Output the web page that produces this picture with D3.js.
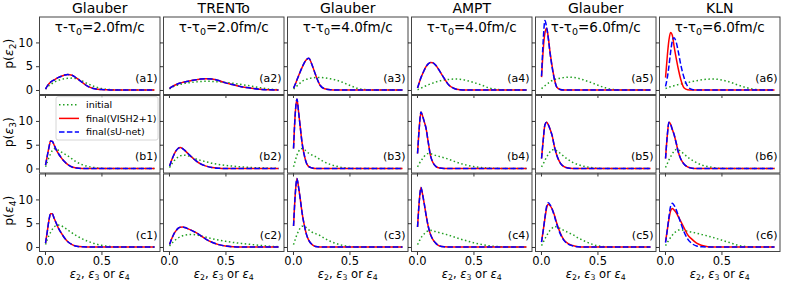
<!DOCTYPE html>
<html>
<head>
<meta charset="utf-8">
<script src="https://cdn.jsdelivr.net/npm/d3@7"></script>
<style>
  body { margin: 0; background: #fff; }
  svg text { font-family: "DejaVu Sans", sans-serif; fill: #000; }
</style>
</head>
<body>
<svg id="chart" width="789" height="282"></svg>
<script>
// eccentricity bins (shared by every panel)
const xs = [0.005, 0.02, 0.035, 0.05, 0.065, 0.08, 0.10, 0.12, 0.14, 0.17, 0.20, 0.24,
            0.28, 0.33, 0.38, 0.44, 0.50, 0.57, 0.64, 0.72, 0.80, 0.88, 0.97];

const models = ['Glauber', 'TRENTo', 'Glauber', 'AMPT', 'Glauber', 'KLN'];
const times = ['2.0', '2.0', '4.0', '4.0', '6.0', '6.0'];
const rowNames = ['a', 'b', 'c'];
const harmonics = ['2', '3', '4'];
const xTicks = [0, 0.5];
const yTicks = [0, 5, 10];

// row a : p(eps2)
const initA = [
  [0.2,0.55,0.9,1.15,1.4,1.6,1.85,2.05,2.2,2.35,2.45,2.5,2.35,1.9,1.3,0.7,0.3,0.1,0.03,0,0,0,0],
  [0.2,0.45,0.65,0.8,0.95,1.05,1.2,1.3,1.4,1.5,1.6,1.7,1.78,1.82,1.8,1.72,1.6,1.4,1.15,0.85,0.5,0.2,0.05],
  [0.2,0.5,0.85,1.2,1.5,1.8,2.05,2.25,2.4,2.55,2.62,2.65,2.55,2.35,2.1,1.6,1.0,0.35,0.08,0,0,0,0],
  [0.05,0.2,0.4,0.55,0.75,0.9,1.1,1.3,1.45,1.7,1.9,2.1,2.22,2.3,2.25,2.0,1.6,1.05,0.4,0.1,0,0,0],
  [0.3,0.6,0.9,1.2,1.45,1.7,2.0,2.2,2.35,2.5,2.6,2.7,2.65,2.45,2.1,1.6,1.05,0.45,0.1,0,0,0,0],
  [0.3,0.45,0.6,0.7,0.8,0.9,1.05,1.15,1.25,1.4,1.55,1.75,1.95,2.15,2.28,2.3,2.1,1.7,1.1,0.5,0.1,0,0]
];
const vishA = [
  [0.2,0.8,1.3,1.65,1.9,2.1,2.4,2.65,2.85,3.1,3.25,3.1,2.5,1.6,0.75,0.25,0.08,0.02,0,0,0,0,0],
  [0.3,0.6,0.8,1.0,1.15,1.3,1.45,1.6,1.7,1.85,2.0,2.15,2.3,2.35,2.3,2.0,1.5,1.1,0.7,0.4,0.15,0.04,0],
  [0.4,1.2,2.1,3.0,3.9,4.7,5.7,6.4,6.7,5.2,3.2,1.0,0.25,0.05,0,0,0,0,0,0,0,0,0],
  [0.4,1.5,2.6,3.4,4.2,4.9,5.5,5.8,5.75,5.1,4.0,2.5,1.1,0.3,0.05,0,0,0,0,0,0,0,0],
  [2.7,8.5,12.0,13.0,11.0,8.0,4.8,2.2,0.6,0.1,0,0,0,0,0,0,0,0,0,0,0,0,0],
  [2.6,7.0,10.5,12.1,11.5,9.3,6.6,4.2,2.2,0.4,0.05,0,0,0,0,0,0,0,0,0,0,0,0]
];
const unetA = [
  [0.2,0.8,1.3,1.65,1.9,2.1,2.4,2.65,2.85,3.1,3.25,3.1,2.5,1.6,0.75,0.25,0.08,0.02,0,0,0,0,0],
  [0.3,0.6,0.8,1.0,1.15,1.3,1.45,1.6,1.7,1.85,2.0,2.15,2.3,2.35,2.3,2.0,1.5,1.1,0.7,0.4,0.15,0.04,0],
  [0.4,1.2,2.1,3.0,3.9,4.7,5.7,6.4,6.7,5.2,3.2,1.0,0.25,0.05,0,0,0,0,0,0,0,0,0],
  [0.4,1.5,2.6,3.4,4.2,4.9,5.5,5.8,5.75,5.1,4.0,2.5,1.1,0.3,0.05,0,0,0,0,0,0,0,0],
  [2.9,10.5,14.6,13.2,10.8,7.8,4.6,2.1,0.6,0.1,0,0,0,0,0,0,0,0,0,0,0,0,0],
  [0.75,2.5,5.0,8.0,10.3,11.0,10.0,7.8,5.3,2.5,0.8,0.1,0,0,0,0,0,0,0,0,0,0,0]
];

// row b : p(eps3)
const initB = [
  [0.35,1.3,2.3,3.1,3.8,4.15,4.1,3.8,3.5,3.1,2.7,2.0,1.35,0.8,0.45,0.18,0.06,0,0,0,0,0,0],
  [0.2,0.8,1.3,1.75,2.1,2.4,2.65,2.8,2.8,2.65,2.4,2.0,1.7,1.4,1.1,0.85,0.65,0.48,0.35,0.22,0.14,0.07,0.02],
  [0.35,1.6,2.8,3.6,4.1,4.2,4.0,3.6,3.2,2.8,2.5,1.9,1.35,0.85,0.5,0.2,0.05,0,0,0,0,0,0],
  [0.35,1.0,1.6,2.1,2.55,2.9,3.15,3.1,2.95,2.7,2.5,2.25,1.95,1.5,1.1,0.7,0.4,0.2,0.08,0.02,0,0,0],
  [0.35,1.0,1.7,2.4,3.0,3.5,3.9,4.0,3.7,3.2,2.6,1.9,1.3,0.8,0.45,0.2,0.05,0,0,0,0,0,0],
  [0.2,1.0,1.8,2.5,3.1,3.6,4.0,3.9,3.6,3.0,2.4,1.75,1.2,0.7,0.4,0.15,0.03,0,0,0,0,0,0]
];
const vishB = [
  [0.7,2.6,4.4,5.8,5.7,5.0,3.9,3.1,2.4,1.5,0.85,0.3,0.08,0,0,0,0,0,0,0,0,0,0],
  [0.5,1.5,2.4,3.2,3.8,4.2,4.4,4.2,3.8,3.1,2.4,1.6,0.95,0.5,0.2,0.05,0,0,0,0,0,0,0],
  [4.2,11.5,14.6,11.8,8.6,5.5,2.8,1.1,0.4,0.1,0,0,0,0,0,0,0,0,0,0,0,0,0],
  [3.15,8.5,11.9,11.0,9.8,8.5,5.5,2.7,1.3,0.4,0.1,0,0,0,0,0,0,0,0,0,0,0,0],
  [2.1,6.0,9.2,9.7,9.2,8.3,6.8,4.5,2.8,1.2,0.45,0.1,0,0,0,0,0,0,0,0,0,0,0],
  [2.1,6.8,9.7,9.3,8.2,7.2,5.3,3.3,2.0,0.9,0.35,0.05,0,0,0,0,0,0,0,0,0,0,0]
];
const unetB = [
  [0.7,2.6,4.4,5.8,5.7,5.0,3.9,3.1,2.4,1.5,0.85,0.3,0.08,0,0,0,0,0,0,0,0,0,0],
  [0.5,1.5,2.4,3.2,3.8,4.2,4.4,4.2,3.8,3.1,2.4,1.6,0.95,0.5,0.2,0.05,0,0,0,0,0,0,0],
  [4.2,11.5,14.6,11.8,8.6,5.5,2.8,1.1,0.4,0.1,0,0,0,0,0,0,0,0,0,0,0,0,0],
  [3.15,8.5,11.9,11.0,9.8,8.5,5.5,2.7,1.3,0.4,0.1,0,0,0,0,0,0,0,0,0,0,0,0],
  [2.1,6.0,9.2,9.7,9.2,8.3,6.8,4.5,2.8,1.2,0.45,0.1,0,0,0,0,0,0,0,0,0,0,0],
  [2.1,6.8,9.7,9.3,8.2,7.2,5.3,3.3,2.0,0.9,0.35,0.05,0,0,0,0,0,0,0,0,0,0,0]
];

// row c : p(eps4)
const initC = [
  [0.5,1.5,2.4,3.1,3.7,4.2,4.5,4.6,4.5,4.1,3.6,2.95,2.35,1.7,1.2,0.7,0.35,0.12,0.03,0,0,0,0],
  [0.2,0.6,1.0,1.35,1.65,1.9,2.15,2.35,2.5,2.62,2.65,2.55,2.35,2.05,1.75,1.45,1.2,0.95,0.75,0.55,0.35,0.18,0.06],
  [0.5,1.6,2.6,3.4,4.0,4.35,4.35,4.0,3.6,3.1,2.8,2.4,1.8,1.2,0.75,0.35,0.1,0.02,0,0,0,0,0],
  [0.5,1.2,1.9,2.4,2.8,3.15,3.4,3.5,3.4,3.2,3.0,2.75,2.5,2.1,1.7,1.3,0.9,0.55,0.25,0.08,0,0,0],
  [0.3,1.0,1.7,2.4,3.0,3.5,4.0,4.3,4.2,3.9,3.5,3.05,2.6,1.9,1.3,0.7,0.25,0.05,0,0,0,0,0],
  [0.3,0.9,1.5,2.0,2.5,2.9,3.3,3.55,3.6,3.5,3.3,3.1,2.9,2.6,2.3,1.9,1.45,0.95,0.4,0.08,0,0,0]
];
const vishC = [
  [0.8,3.2,5.6,7.0,7.0,6.1,5.0,3.9,3.1,2.0,1.15,0.5,0.15,0.03,0,0,0,0,0,0,0,0,0],
  [0.5,1.5,2.3,3.0,3.5,3.9,4.15,4.2,4.1,3.8,3.5,3.0,2.4,1.6,1.0,0.5,0.2,0.05,0,0,0,0,0],
  [4.4,11.0,14.4,12.5,10.0,7.3,4.6,2.6,1.4,0.5,0.1,0,0,0,0,0,0,0,0,0,0,0,0],
  [4.2,9.5,12.5,11.0,9.0,6.8,4.3,2.6,1.6,0.7,0.2,0.03,0,0,0,0,0,0,0,0,0,0,0],
  [1.1,3.5,6.0,8.2,9.0,8.7,7.9,6.6,5.0,3.0,1.6,0.7,0.3,0.05,0,0,0,0,0,0,0,0,0],
  [1.1,3.5,5.8,7.6,8.1,7.8,7.2,6.3,5.4,4.0,2.6,1.6,0.8,0.3,0.05,0,0,0,0,0,0,0,0]
];
const unetC = [
  [0.8,3.2,5.6,7.0,7.0,6.1,5.0,3.9,3.1,2.0,1.15,0.5,0.15,0.03,0,0,0,0,0,0,0,0,0],
  [0.5,1.5,2.3,3.0,3.5,3.9,4.15,4.2,4.1,3.8,3.5,3.0,2.4,1.6,1.0,0.5,0.2,0.05,0,0,0,0,0],
  [4.4,11.0,14.4,12.5,10.0,7.3,4.6,2.6,1.4,0.5,0.1,0,0,0,0,0,0,0,0,0,0,0,0],
  [4.2,9.5,12.5,11.0,9.0,6.8,4.3,2.6,1.6,0.7,0.2,0.03,0,0,0,0,0,0,0,0,0,0,0],
  [1.0,3.5,6.2,8.6,9.3,8.9,7.9,6.4,4.8,2.8,1.5,0.6,0.25,0.05,0,0,0,0,0,0,0,0,0],
  [0.9,3.5,6.3,8.6,9.2,8.8,7.8,6.4,5.0,3.1,1.7,0.7,0.2,0.03,0,0,0,0,0,0,0,0,0]
];

const initRows = [initA, initB, initC];
const vishRows = [vishA, vishB, vishC];
const unetRows = [unetA, unetB, unetC];

// layout
const left0 = 39.5, colStep = 124, panelW = 120.5;
const rowTops = [17, 95.5, 174], panelH = 77.5;

const green = '#22a022', red = '#ff0000', blue = '#0000ff';

const svg = d3.select('#chart');

const xScale = d3.scaleLinear().domain([-0.0485, 1.0185]).range([0, panelW]);
const yScale = d3.scaleLinear().domain([-0.95, 15.35]).range([panelH, 0]);

const line = d3.line()
    .x((d, i) => xScale(xs[i]))
    .y(d => yScale(d))
    .curve(d3.curveMonotoneX);

rowNames.forEach((rn, r) => {
    models.forEach((m, c) => {
        const px = left0 + c * colStep, py = rowTops[r];
        const g = svg.append('g').attr('transform', `translate(${px},${py})`);

        // axes
        const ya = g.append('g')
            .call(d3.axisLeft(yScale).tickValues(yTicks).tickSize(3.5).tickPadding(3)
                .tickFormat(c === 0 ? d3.format('d') : ''));
        const xa = g.append('g')
            .attr('transform', `translate(0,${panelH})`)
            .call(d3.axisBottom(xScale).tickValues(xTicks).tickSize(3.5).tickPadding(1.5)
                .tickFormat(r === 2 ? d3.format('.1f') : ''));
        [ya, xa].forEach(a => {
            a.select('.domain').remove();
            a.selectAll('line').attr('stroke', '#000').attr('stroke-width', 0.8);
            a.selectAll('text').attr('font-size', 11.5).attr('font-family', '"DejaVu Sans", sans-serif');
        });

        // curves
        g.append('path').attr('d', line(initRows[r][c]))
            .attr('fill', 'none').attr('stroke', green).attr('stroke-width', 1.5)
            .attr('stroke-dasharray', '1.5,2.5');
        g.append('path').attr('d', line(vishRows[r][c]))
            .attr('fill', 'none').attr('stroke', red).attr('stroke-width', 1.5);
        g.append('path').attr('d', line(unetRows[r][c]))
            .attr('fill', 'none').attr('stroke', blue).attr('stroke-width', 1.5)
            .attr('stroke-dasharray', '5.5,2.4');

        g.append('rect').attr('width', panelW).attr('height', panelH)
            .attr('fill', 'none').attr('stroke', '#444').attr('stroke-width', 1);

        g.append('text')
            .attr('x', panelW - 2.5).attr('y', 64.5)
            .attr('text-anchor', 'end').attr('font-size', 11)
            .text(`(${rn}${c + 1})`);

        if (r === 0) {
            svg.append('text')
                .attr('x', px + panelW / 2).attr('y', 12.5)
                .attr('text-anchor', 'middle').attr('font-size', 14)
                .text(m);
            const t = g.append('text')
                .attr('x', panelW / 2).attr('y', 14.5)
                .attr('text-anchor', 'middle').attr('font-size', 13.5);
            t.append('tspan').text('τ-τ');
            t.append('tspan').attr('font-size', 9.5).attr('dy', 3.3).text('0');
            t.append('tspan').attr('dy', -3.3).text(`=${times[c]}fm/c`);
        }
        if (r === 2) {
            const t = svg.append('text')
                .attr('x', px + panelW / 2).attr('y', 278.3)
                .attr('text-anchor', 'middle').attr('font-size', 11.5);
            harmonics.forEach((h, k) => {
                t.append('tspan').attr('font-style', 'italic').text('ε');
                t.append('tspan').attr('font-size', 7.8).attr('dy', 1.8).text(h);
                t.append('tspan').attr('dy', -1.8).text(k === 0 ? ', ' : k === 1 ? ' or ' : '');
            });
        }
    });

    // y label
    const yl = svg.append('text')
        .attr('transform', `translate(12.5,${rowTops[r] + panelH / 2 - 2}) rotate(-90)`)
        .attr('text-anchor', 'middle').attr('font-size', 12.5);
    yl.append('tspan').text('p(');
    yl.append('tspan').attr('font-style', 'italic').text('ε');
    yl.append('tspan').attr('font-size', 9).attr('dy', 3).text(harmonics[r]);
    yl.append('tspan').attr('dy', -3).text(')');
});

// legend in panel b1
const lg = svg.append('g').attr('transform', `translate(${left0 + 16.5},${rowTops[1] + 1.2})`);
lg.append('rect').attr('width', 102).attr('height', 43.3).attr('rx', 2)
    .attr('fill', '#fff').attr('fill-opacity', 0.8).attr('stroke', '#ccc').attr('stroke-width', 0.8);
const entries = [
    { label: 'initial', color: green, dash: '1.5,2.5' },
    { label: 'final(VISH2+1)', color: red, dash: null },
    { label: 'final(sU-net)', color: blue, dash: '5.5,2.4' }
];
entries.forEach((e, i) => {
    const yy = 8 + i * 13.7;
    lg.append('line').attr('x1', 3).attr('x2', 23).attr('y1', yy).attr('y2', yy)
        .attr('stroke', e.color).attr('stroke-width', 1.5)
        .attr('stroke-dasharray', e.dash);
    lg.append('text').attr('x', 30).attr('y', yy + 3.4).attr('font-size', 9.5).text(e.label);
});
</script>
</body>
</html>
